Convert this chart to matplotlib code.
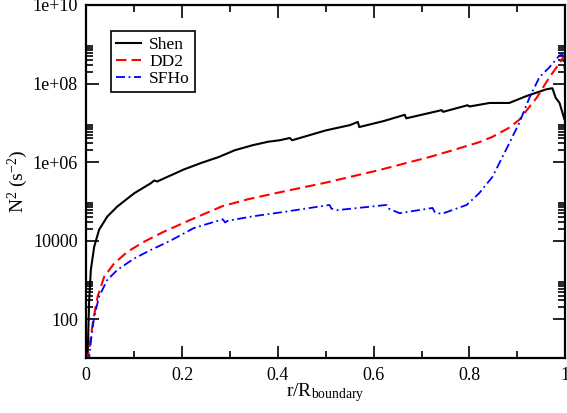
import matplotlib
matplotlib.use("Agg")
import matplotlib.pyplot as plt
from matplotlib.ticker import FixedLocator, NullFormatter

plt.rcParams.update({"font.family": ["Liberation Serif", "DejaVu Serif"],
                     "mathtext.fontset": "custom", "mathtext.rm": "Liberation Serif",
                     "mathtext.it": "Liberation Serif"})

# ---- data (x = r/R_boundary, y = N^2 in s^-2) ----
shen_x = [0.0, 0.003, 0.006, 0.0097, 0.0167, 0.027, 0.044, 0.065, 0.1, 0.135,
          0.142, 0.148, 0.175, 0.204, 0.24, 0.277, 0.31, 0.348, 0.38, 0.404,
          0.425, 0.43, 0.5, 0.55, 0.567, 0.57, 0.62, 0.665, 0.668, 0.742,
          0.745, 0.796, 0.8, 0.842, 0.883, 0.919, 0.96, 0.973, 0.98, 0.988,
          0.998]
shen_y = [8, 11, 260, 1.8e3, 7e3, 1.9e4, 4.1e4, 7.4e4, 1.6e5, 2.9e5, 3.4e5,
          3.2e5, 4.5e5, 6.5e5, 9.5e5, 1.35e6, 2e6, 2.7e6, 3.3e6, 3.6e6, 4.1e6,
          3.6e6, 6.4e6, 8.7e6, 1.05e7, 7.8e6, 1.1e7, 1.6e7, 1.3e7, 2.1e7,
          1.9e7, 2.8e7, 2.6e7, 3.2e7, 3.2e7, 4.8e7, 7.1e7, 7.6e7, 4.3e7, 3.2e7,
          1.25e7]

dd2_x = [0.0, 0.004, 0.0097, 0.015, 0.024, 0.0375, 0.058, 0.086, 0.121, 0.1625,
         0.225, 0.285, 0.34, 0.404, 0.5, 0.6125, 0.717, 0.765, 0.82, 0.848,
         0.883, 0.904, 0.94, 0.967, 0.988, 0.998]
dd2_y = [8, 11, 36, 100, 380, 1.2e3, 2.6e3, 5.2e3, 9.4e3, 1.7e4, 3.7e4, 7.6e4,
         1.15e5, 1.7e5, 3e5, 6.3e5, 1.35e6, 2e6, 3.2e6, 4.4e6, 7.5e6, 1.2e7,
         4.3e7, 1.45e8, 3.3e8, 5.2e8]

sfho_x = [0.0, 0.006, 0.011, 0.0167, 0.027, 0.044, 0.065, 0.1, 0.135, 0.176,
          0.225, 0.285, 0.29, 0.295, 0.35, 0.404, 0.508, 0.512, 0.525, 0.627,
          0.632, 0.654, 0.723, 0.728, 0.742, 0.794, 0.82, 0.848, 0.883, 0.904,
          0.925, 0.946, 0.967, 0.988, 0.994, 1.0]
sfho_y = [8, 10, 36, 116, 380, 1e3, 1.8e3, 3.5e3, 5.8e3, 1e4, 2.1e4, 3.5e4,
          2.9e4, 3.2e4, 4.2e4, 5.2e4, 8.1e4, 6.5e4, 6e4, 8.1e4, 6.5e4, 5e4,
          6.8e4, 5.2e4, 4.8e4, 8.1e4, 1.6e5, 4.2e5, 3e6, 1e7, 4.3e7, 1.45e8,
          2.6e8, 5.2e8, 5.5e8, 1.9e8]

yticks = [1e2, 1e4, 1e6, 1e8, 1e10]
ylabels = ["100", "10000", "1e+06", "1e+08", "1e+10"]
xticks = [0, 0.2, 0.4, 0.6, 0.8, 1.0]
xlabels = ["0", "0.2", "0.4", "0.6", "0.8", "1"]

fig = plt.figure(figsize=(5.67, 4.13), dpi=100)
ax = fig.add_axes([0.152, 0.132, 0.845, 0.856])

ax.plot(shen_x, shen_y, color="black", lw=1.5, label="Shen")
ax.plot(dd2_x, dd2_y, color="red", lw=1.5, dashes=(5, 2.5), label="DD2")
ax.plot(sfho_x, sfho_y, color="blue", lw=1.3, dashes=(5, 2, 1, 2), label="SFHo")

ax.set_yscale("log")
ax.set_xlim(0, 1)
ax.set_ylim(10, 1e10)
ax.set_yticks(yticks)
ax.set_yticklabels(ylabels)
ax.yaxis.set_minor_locator(FixedLocator([k * 10.0 ** e for e in (0, 2, 4, 6, 8)
                                         for k in range(2, 10)]))
ax.yaxis.set_minor_formatter(NullFormatter())
ax.set_xticks(xticks)
ax.set_xticklabels(xlabels)
ax.xaxis.set_minor_locator(FixedLocator([0.1, 0.3, 0.5, 0.7, 0.9]))

ax.tick_params(which="both", direction="in", top=True, right=True,
               labelsize=13, width=1.2, pad=6, colors="black")
ax.tick_params(which="major", length=9)
ax.tick_params(which="minor", length=5)
for s in ax.spines.values():
    s.set_linewidth(1.6)

ax.set_xlabel(r"r/R$_{\rm boundary}$", fontsize=14, labelpad=-2)
ax.set_ylabel(r"N$^2$ (s$^{-2}$)", fontsize=14, labelpad=2)

leg = ax.legend(loc="upper left", bbox_to_anchor=(0.052, 0.925), fontsize=12.5,
                fancybox=False, framealpha=1, edgecolor="black",
                handlelength=1.4, handletextpad=0.5, borderpad=0.3,
                labelspacing=0.05, borderaxespad=0)
leg.get_frame().set_linewidth(1.2)

fig.savefig("out.png", dpi=100)
